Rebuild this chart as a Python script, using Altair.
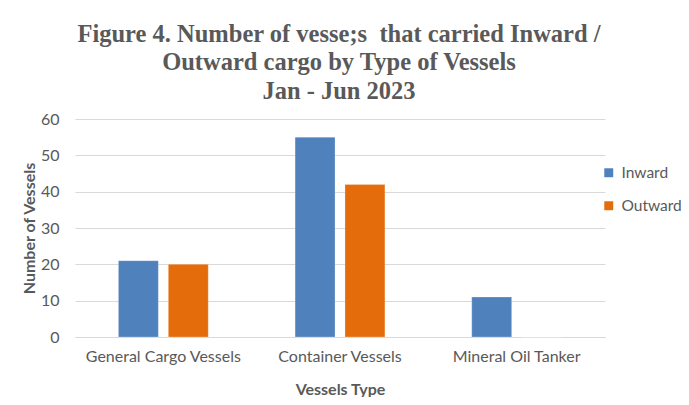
import altair as alt
import pandas as pd

categories = ["General Cargo Vessels", "Container Vessels", "Mineral Oil Tanker"]
inward = [21, 55, 11]
outward = [20, 42, 0]
series = ["Inward", "Outward"]
colors = ["#4F81BD", "#E46C0A"]

rows = []
for c, i, o in zip(categories, inward, outward):
    rows.append({"type": c, "dir": "Inward", "value": i})
    rows.append({"type": c, "dir": "Outward", "value": o})
df = pd.DataFrame(rows)

label_font = "Lato"
gray = "#595959"

chart = alt.Chart(df).mark_bar(stroke="#ffffff", strokeOpacity=0.5, strokeWidth=0.5).encode(
    x=alt.X("type:N", sort=categories, title="Vessels Type",
            scale=alt.Scale(paddingInner=0, paddingOuter=0),
            axis=alt.Axis(labelAngle=0, labelFont=label_font, labelFontSize=16, labelColor=gray,
                          titleFont=label_font, titleFontSize=16, titleFontWeight="bold", titleColor=gray,
                          labelPadding=11, titlePadding=17, ticks=False, domain=True,
                          domainColor="#d9d9d9", grid=False)),
    xOffset=alt.XOffset("dir:N", sort=series,
                        scale=alt.Scale(paddingInner=0.2, paddingOuter=0.87)),
    y=alt.Y("value:Q", title="Number of Vessels",
            scale=alt.Scale(domain=[0, 60]),
            axis=alt.Axis(values=[0, 10, 20, 30, 40, 50, 60], labelFont=label_font, labelFontSize=16,
                          labelColor=gray, titleFont=label_font, titleFontSize=16,
                          titleFontWeight="bold", titleColor=gray, ticks=False, domain=False,
                          gridColor="#d9d9d9", labelPadding=16, titlePadding=3)),
    color=alt.Color("dir:N", sort=series, scale=alt.Scale(domain=series, range=colors),
                    legend=alt.Legend(title=None, orient="none", legendX=526, legendY=46,
                                      symbolType="square", symbolSize=80, labelFont=label_font,
                                      labelFontSize=15.5, labelColor=gray, rowPadding=16,
                                      labelOffset=5, symbolStrokeWidth=0)),
).properties(
    width=530,
    height=218,
    title=alt.TitleParams(
        text=["Figure 4. Number of vesse;s\u00a0 that carried Inward /",
              "Outward cargo by Type of Vessels", "Jan - Jun 2023"],
        font="Liberation Serif", fontSize=24.5, fontWeight="bold", color=gray,
        lineHeight=28.5, anchor="middle", dx=-1, offset=7),
    autosize=alt.AutoSizeParams(type="none"),
    padding={"left": 67, "top": 111, "right": 76, "bottom": 60},
).configure_view(stroke=None)

chart.save("out.html", embed_options={"renderer": "svg", "actions": False})
